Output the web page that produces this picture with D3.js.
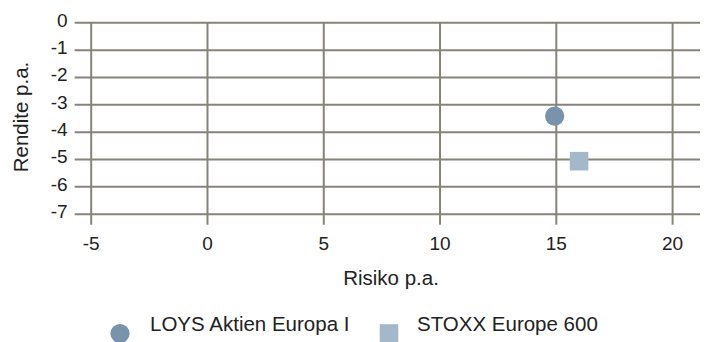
<!DOCTYPE html>
<html>
<head>
<meta charset="utf-8">
<script src="https://cdn.jsdelivr.net/npm/d3@7"></script>
<style>
  html, body { margin: 0; padding: 0; background: #fff; }
  svg text { font-family: "Liberation Sans", Arial, sans-serif; fill: #222; }
</style>
</head>
<body>
<svg id="chart" width="709" height="342"></svg>
<script>
// Risk / return scatter
const seriesNames = ["LOYS Aktien Europa I", "STOXX Europe 600"];
const riskValues = [14.95, 16.0];
const returnValues = [-3.43, -5.08];
const seriesColors = ["#7893ab", "#a3b8c9"];
const seriesSymbols = [d3.symbolCircle, d3.symbolSquare];
const xTickValues = [-5, 0, 5, 10, 15, 20];
const yTickValues = [0, -1, -2, -3, -4, -5, -6, -7];
const xTitle = "Risiko p.a.";
const yTitle = "Rendite p.a.";

const svg = d3.select("#chart");
const gridColor = "#86837a";
const tickFont = 19;
const labelFont = 20.5;
const plainNumber = d => String(d);

const x = d3.scaleLinear().domain([-5, 21.2]).range([90.7, 700]);
const y = d3.scaleLinear().domain([-7, 0]).range([213.7, 22.3]);

// horizontal grid with left tick extension
const yAxis = d3.axisLeft(y)
  .tickValues(yTickValues)
  .tickSize(-(x.range()[1] - x.range()[0]) - 16)
  .tickPadding(7)
  .tickFormat(plainNumber);
const gy = svg.append("g").attr("transform", `translate(${x.range()[0] - 16},0)`).call(yAxis);
gy.select(".domain").remove();
gy.selectAll(".tick line").attr("stroke", gridColor).attr("stroke-width", 2);
gy.selectAll(".tick text")
  .attr("font-size", tickFont)
  .attr("fill", "#222")
  .attr("dy", "0.2em");

// vertical grid with bottom tick extension
const xAxis = d3.axisBottom(x)
  .tickValues(xTickValues)
  .tickSize(-(y.range()[0] - y.range()[1]) - 11)
  .tickFormat(plainNumber);
const gx = svg.append("g").attr("transform", `translate(0,${y.range()[0] + 11})`).call(xAxis);
gx.select(".domain").remove();
gx.selectAll(".tick line").attr("stroke", gridColor).attr("stroke-width", 2);
gx.selectAll(".tick text")
  .attr("font-size", tickFont)
  .attr("fill", "#222")
  .attr("y", 25)
  .attr("dy", 0);
svg.selectAll("g").attr("font-family", null);

// axis titles
svg.append("text")
  .attr("x", 391).attr("y", 284.5)
  .attr("text-anchor", "middle")
  .attr("font-size", labelFont)
  .text(xTitle);
svg.append("text")
  .attr("transform", "translate(28,117) rotate(-90)")
  .attr("text-anchor", "middle")
  .attr("font-size", labelFont)
  .text(yTitle);

// points
const points = seriesNames.map((name, i) => ({
  name, risk: riskValues[i], ret: returnValues[i],
  color: seriesColors[i], symbol: seriesSymbols[i]
}));
const symbolSizes = [290, 345];
svg.append("g").selectAll("path")
  .data(points)
  .join("path")
  .attr("transform", d => `translate(${x(d.risk)},${y(d.ret)})`)
  .attr("d", (d, i) => d3.symbol().type(d.symbol).size(symbolSizes[i])())
  .attr("fill", d => d.color);

// legend
const legendX = [120, 389];
const legendTextOffset = [30, 28];
const legend = svg.append("g").selectAll("g")
  .data(points)
  .join("g")
  .attr("transform", (d, i) => `translate(${legendX[i]},333.5)`);
legend.append("path")
  .attr("d", (d, i) => d3.symbol().type(d.symbol).size(symbolSizes[i])())
  .attr("fill", d => d.color);
legend.append("text")
  .attr("x", (d, i) => legendTextOffset[i])
  .attr("y", -2.5)
  .attr("font-size", labelFont)
  .text(d => d.name);
</script>
</body>
</html>
